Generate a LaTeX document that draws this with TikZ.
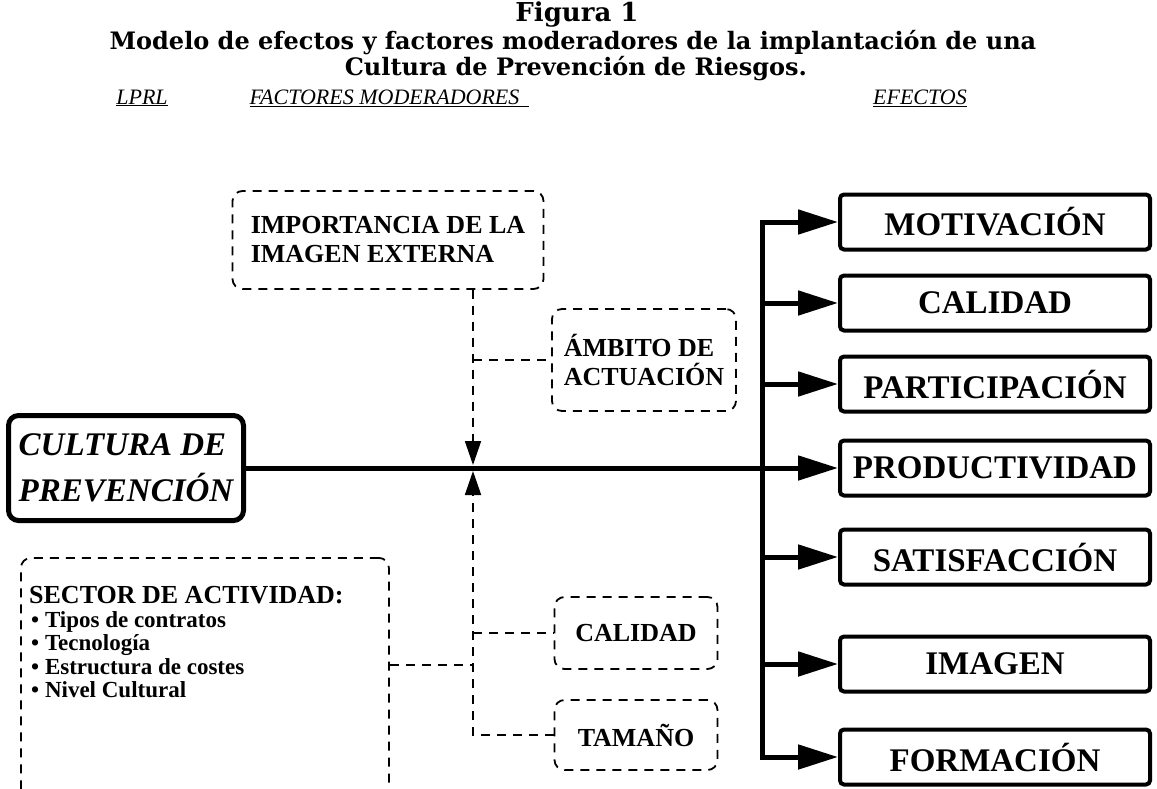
\documentclass[tikz,border=0pt]{standalone}
\usepackage{fontspec}
\setmainfont{Liberation Serif}
\newfontfamily\titulofont{DejaVu Serif}
\usetikzlibrary{positioning,arrows.meta}

\begin{document}
\begin{tikzpicture}[x=1pt,y=-1pt,
	efecto/.style={draw,line width=4pt,rounded corners=4pt,minimum width=310pt,minimum height=55pt,inner sep=0pt,font=\fontsize{33}{35}\selectfont\bfseries},
	moderador/.style={draw,dash pattern=on 9pt off 7pt,line width=1.8pt,rounded corners=10pt,inner sep=0pt,align=left,font=\fontsize{26}{29}\selectfont\bfseries},
	enlace/.style={dash pattern=on 9pt off 7pt,line width=1.8pt},
	flecha/.style={line width=5pt,-{Triangle[length=40pt,width=24pt]}},
	flechita/.style={-{Triangle[length=24pt,width=16pt]}},
	cabecera/.style={font=\fontsize{22}{24}\selectfont\itshape},
	titulo/.style={font=\titulofont\fontsize{24}{26}\selectfont\bfseries}]
		\useasboundingbox (0,0) rectangle (1157,788);
		\clip (0,0) rectangle (1157,788);
		% Titulo
		\node[titulo,font=\titulofont\fontsize{26}{28}\selectfont\bfseries] (fig) at (577,15) {Figura 1};
		\node[titulo] (mod) at (573,43) {Modelo de efectos y factores moderadores de la implantación de una};
		\node[titulo] (cul) at (576,69) {Cultura de Prevención de Riesgos.};
		% Cabeceras
		\node[cabecera] (lprl) at (142,98) {\underline{LPRL}};
		\node[cabecera,anchor=west] (fmod) at (246,98) {\underline{FACTORES MODERADORES\hspace{10pt}}};
		\node[cabecera] (efe) at (920,98) {\underline{EFECTOS}};
		% Cultura de prevencion
		\node[draw,line width=5pt,rounded corners=10pt,minimum width=235pt,minimum height=105pt,inner sep=4pt,align=left,font=\fontsize{33}{46}\selectfont\bfseries\itshape] (cpr) at (126,468) {CULTURA DE\\PREVENCIÓN};
		% Efectos
		\node[efecto] (mot) at (995,222) {MOTIVACIÓN};
		\node[efecto] (cal) at (995,303) {CALIDAD};
		\node[efecto] (par) at (995,384) {PARTICIPACIÓN};
		\node[efecto] (pro) at (995,468) {PRODUCTIVIDAD};
		\node[efecto] (sat) at (995,557) {SATISFACCIÓN};
		\node[efecto] (ima) at (995,664) {IMAGEN};
		\node[efecto] (form) at (995,757) {FORMACIÓN};
		\coordinate (bus) at (762,0);
		\draw[line width=5pt,line cap=rect] (bus |- mot) -- (bus |- form);
		\draw[flecha] (cpr) -- (pro);
		\draw[flecha] (bus |- mot) -- (mot);
		\draw[flecha] (bus |- cal) -- (cal);
		\draw[flecha] (bus |- par) -- (par);
		\draw[flecha] (bus |- sat) -- (sat);
		\draw[flecha] (bus |- ima) -- (ima);
		\draw[flecha] (bus |- form) -- (form);
		% Factores moderadores
		\node[moderador,minimum width=311pt,minimum height=98pt] (imp) at (388,240) {IMPORTANCIA DE LA\\IMAGEN EXTERNA};
		\node[moderador,minimum width=184pt,minimum height=102pt] (amb) at (644,360) {ÁMBITO DE\\ACTUACIÓN};
		\node[moderador,minimum width=163pt,minimum height=72pt] (calm) at (636,633) {CALIDAD};
		\node[moderador,minimum width=163pt,minimum height=70pt] (tam) at (636,735) {TAMAÑO};
		\node[moderador,minimum width=368pt,minimum height=260pt,anchor=north west] (sec) at (20,557) {};
		\node[anchor=west,inner sep=0pt,font=\fontsize{26}{28}\selectfont\bfseries] (sectit) at (29,595) {SECTOR DE ACTIVIDAD:};
		\node[anchor=north west,align=left,inner sep=0pt,font=\fontsize{23}{23.5}\selectfont\bfseries] (seclis) at (31,611) {• Tipos de contratos\\• Tecnología\\• Estructura de costes\\• Nivel Cultural};
		% Enlaces con la flecha principal
		\coordinate (cruce) at (473,468);
		\coordinate (ramal) at (473,665);
		\draw[enlace,flechita] (cruce |- imp.south) -- ([yshift=3pt]cruce);
		\draw[enlace] (cruce |- amb.west) -- (amb.west);
		\draw[enlace,flechita] (tam.west) -| ([yshift=-3pt]cruce);
		\draw[enlace] (cruce |- calm.west) -- (calm.west);
		\draw[enlace] (sec.east |- ramal) -- (ramal);
\end{tikzpicture}
\end{document}
